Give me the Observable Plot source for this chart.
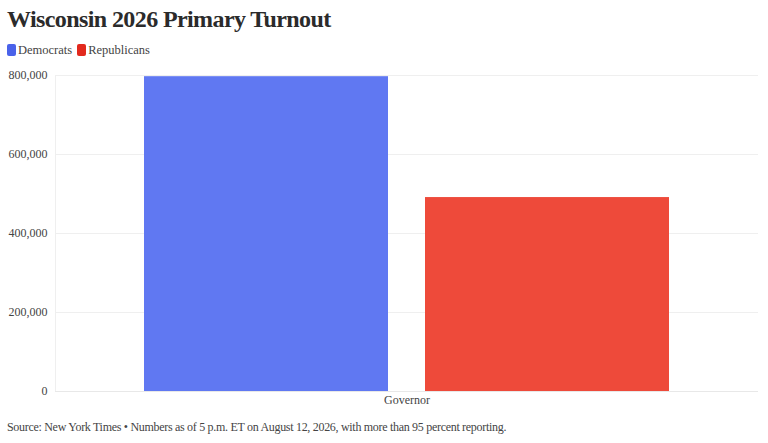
<!DOCTYPE html>
<html>
<head>
<meta charset="utf-8">
<script src="https://cdn.jsdelivr.net/npm/d3@7"></script>
<script src="https://cdn.jsdelivr.net/npm/@observablehq/plot@0.6"></script>
<style>
  html, body { margin: 0; padding: 0; background: #fff; }
  body { width: 768px; height: 443px; overflow: hidden; font-family: "Liberation Serif", "DejaVu Serif", serif; color: #333; }
  h1 { margin: 0; position: absolute; left: 7px; top: 6px; font-size: 24px; font-weight: bold; color: #2b2b2b; letter-spacing: -0.6px; }
  #legend { position: absolute; left: 7px; top: 43px; font-size: 12.5px; color: #444; display: flex; gap: 5px; align-items: center; }
  #legend span.sw { display: inline-block; width: 9px; height: 12px; border-radius: 2px; margin-right: 2px; vertical-align: -2px; }
  #chart { position: absolute; left: 0; top: 62px; }
  #caption { position: absolute; left: 7px; top: 420px; font-size: 12px; color: #444; letter-spacing: -0.3px; }
</style>
</head>
<body>
<h1>Wisconsin 2026 Primary Turnout</h1>
<div id="legend"></div>
<div id="chart"></div>
<div id="caption">Source: New York Times • Numbers as of 5 p.m. ET on August 12, 2026, with more than 95 percent reporting.</div>
<script>
const contests = ["Governor"];
const parties = ["Democrats", "Republicans"];
const turnout = [797000, 491000];
const barColors = ["#6078f2", "#ee4a3a"];
const swatchColors = ["#4a62ea", "#e2291d"];
const yTicks = [0, 200000, 400000, 600000, 800000];

const data = parties.map((p, i) => ({ contest: contests[0], party: p, value: turnout[i] }));

const legend = document.getElementById("legend");
parties.forEach((p, i) => {
  const item = document.createElement("span");
  item.innerHTML = `<span class="sw" style="background:${swatchColors[i]}"></span>${p}`;
  legend.appendChild(item);
});

const chart = Plot.plot({
  width: 768,
  height: 354,
  marginLeft: 55,
  marginRight: 10,
  marginTop: 13,
  marginBottom: 25,
  style: { fontFamily: "Liberation Serif, DejaVu Serif, serif", fontSize: "12px", color: "#444" },
  fx: { domain: contests, padding: 0, label: null, axis: "bottom", tickSize: 0, tickPadding: 4 },
  x: { domain: parties, axis: null, paddingInner: 0.1317, paddingOuter: 0.3167 },
  y: { domain: [0, 800000], ticks: yTicks, tickFormat: d3.format(","), label: null, tickSize: 0, tickPadding: 8 },
  color: { domain: parties, range: barColors },
  marks: [
    Plot.gridY(yTicks, { stroke: "#efefef", strokeOpacity: 1 }),
    Plot.frame({ anchor: "left", stroke: "#efefef" }),
    Plot.barY(data, { fx: "contest", x: "party", y: "value", fill: "party" }),
    Plot.ruleY([0], { stroke: "#e8e8e8" })
  ]
});
document.getElementById("chart").appendChild(chart);
</script>
</body>
</html>
